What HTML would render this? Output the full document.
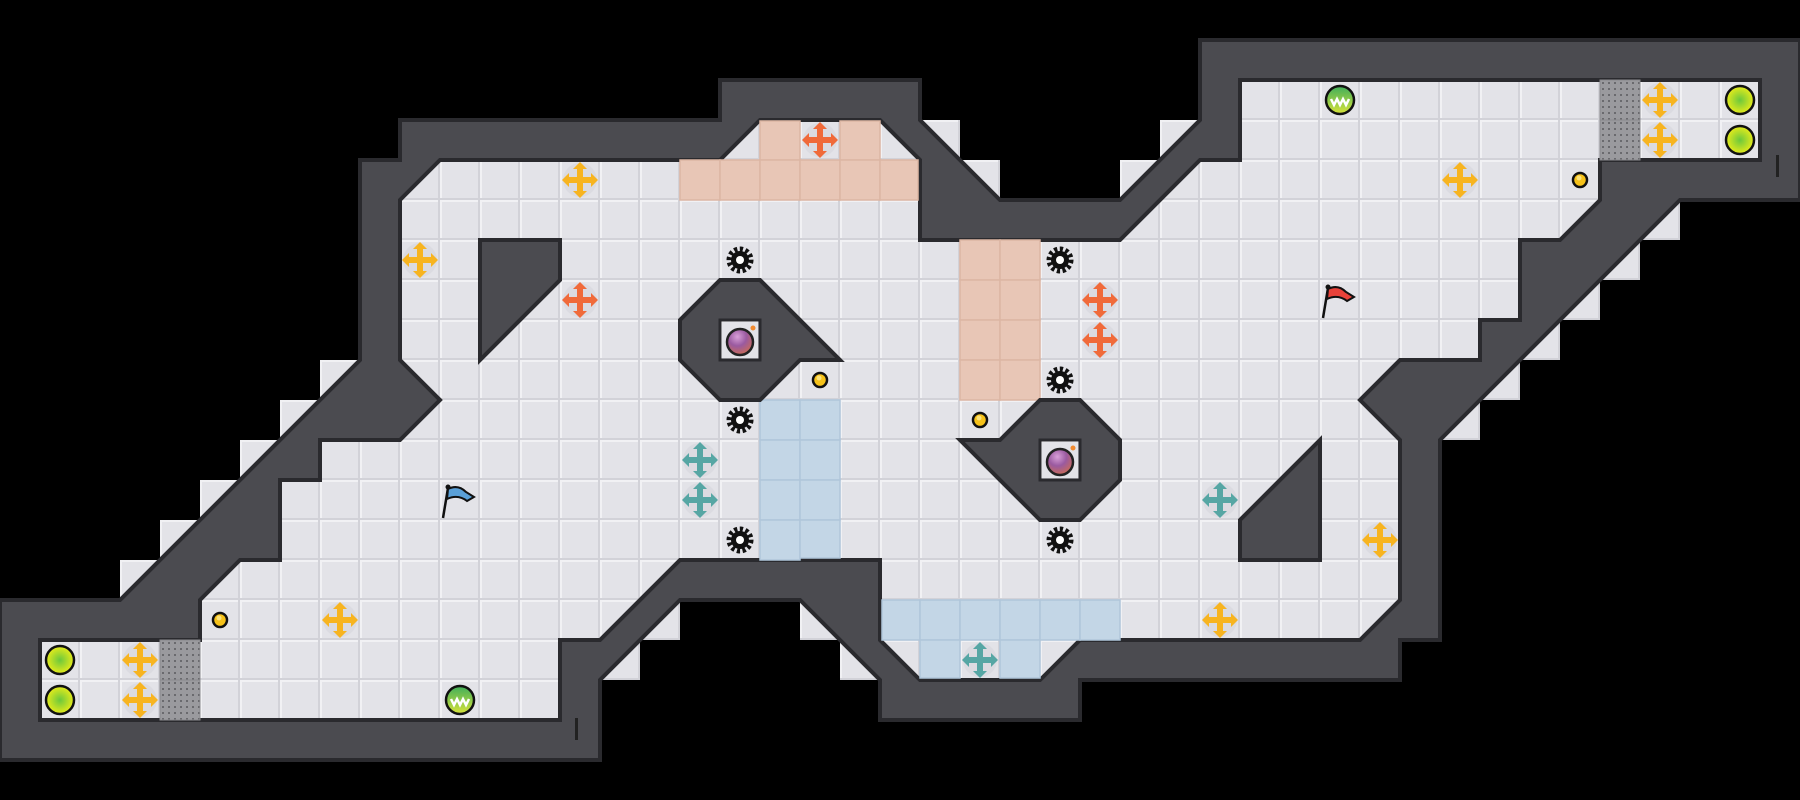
<!DOCTYPE html>
<html><head><meta charset="utf-8"><style>
html,body{margin:0;padding:0;background:#000;}
svg{display:block;}
</style></head><body>
<svg width="1800" height="800" viewBox="0 0 1800 800" xmlns="http://www.w3.org/2000/svg">
<defs>
<pattern id="tile" width="40" height="40" patternUnits="userSpaceOnUse">
<rect width="40" height="40" fill="#e3e3e8"/>
<rect x="0" y="0" width="40" height="2" fill="#f1f1f4"/>
<rect x="0" y="0" width="2" height="40" fill="#f1f1f4"/>
<rect x="38" y="0" width="2" height="40" fill="#d2d2d8"/>
<rect x="0" y="38" width="40" height="2" fill="#d2d2d8"/>
</pattern>
<radialGradient id="lime" cx="0.5" cy="0.5" r="0.5"><stop offset="0" stop-color="#6cc83c"/><stop offset="1" stop-color="#e8ec1a"/></radialGradient>
<linearGradient id="grn" x1="0" y1="0" x2="0" y2="1"><stop offset="0" stop-color="#3fae5a"/><stop offset="1" stop-color="#d8e43a"/></linearGradient>
<radialGradient id="bomb" cx="0.4" cy="0.3" r="0.7"><stop offset="0" stop-color="#d9a0d8"/><stop offset="0.5" stop-color="#9a5aa0"/><stop offset="1" stop-color="#c86a5a"/></radialGradient>
<g id="cross">
<circle r="17" fill="#d6d6dc" opacity="0.6"/>
<rect x="-12" y="-3" width="24" height="6"/>
<rect x="-3" y="-12" width="6" height="24"/>
<polygon points="-18,0 -11,-7 -11,7"/>
<polygon points="18,0 11,-7 11,7"/>
<polygon points="0,-18 -7,-11 7,-11"/>
<polygon points="0,18 -7,11 7,11"/>
</g>
<g id="gear">
<circle r="11" fill="none" stroke="#111" stroke-width="5" stroke-dasharray="3.2 2.5"/>
<circle r="9" fill="#111"/>
<circle r="4" fill="#fff"/>
</g>
<g id="coin"><circle r="7" fill="#f6c21a" stroke="#111" stroke-width="2.5"/><circle cx="-1" cy="-2" r="2.5" fill="#fbe27a"/></g>
<g id="limeb"><circle r="14" fill="url(#lime)" stroke="#111" stroke-width="2.5"/></g>
<g id="strb"><circle r="14" fill="url(#grn)" stroke="#111" stroke-width="2.5"/><polyline points="-9,-1 -6,5 -3,-1 0,5 3,-1 6,5 9,-1" fill="none" stroke="#fff" stroke-width="2.5"/></g>
<pattern id="dots" width="6" height="6" patternUnits="userSpaceOnUse"><rect width="6" height="6" fill="#9a9a9e"/><rect x="2" y="2" width="2" height="2" fill="#6a6a6e"/></pattern>
<g id="dot"><rect width="40" height="40" fill="url(#dots)"/><rect width="40" height="40" fill="none" stroke="#8a8a8e" stroke-width="1"/></g>
</defs>

<rect width="1800" height="800" fill="#000"/>

<!-- outer tiles -->
<g fill="url(#tile)">
<rect x="120" y="560" width="40" height="40"/><rect x="160" y="520" width="40" height="40"/><rect x="200" y="480" width="40" height="40"/>
<rect x="240" y="440" width="40" height="40"/><rect x="280" y="400" width="40" height="40"/><rect x="320" y="360" width="40" height="40"/>
<rect x="640" y="600" width="40" height="40"/><rect x="600" y="640" width="40" height="40"/><rect x="800" y="600" width="40" height="40"/><rect x="840" y="640" width="40" height="40"/>
<rect x="920" y="120" width="40" height="40"/><rect x="960" y="160" width="40" height="40"/><rect x="1120" y="160" width="40" height="40"/><rect x="1160" y="120" width="40" height="40"/>
<rect x="1640" y="200" width="40" height="40"/><rect x="1600" y="240" width="40" height="40"/><rect x="1560" y="280" width="40" height="40"/>
<rect x="1520" y="320" width="40" height="40"/><rect x="1480" y="360" width="40" height="40"/><rect x="1440" y="400" width="40" height="40"/>
</g>

<!-- outer wall -->
<polygon fill="#4b4b50" stroke="#2a2a2e" stroke-width="4" stroke-linejoin="miter" points="
0,760 0,600 120,600 360,360 360,160 400,160 400,120 720,120 720,80 920,80 920,120 1000,200 1120,200 1200,120 1200,40 1800,40 1800,200 1680,200 1440,440 1440,640 1400,640 1400,680 1080,680 1080,720 880,720 880,680 800,600 680,600 600,680 600,760"/>

<!-- floor -->
<polygon fill="url(#tile)" stroke="#2a2a2e" stroke-width="4" stroke-linejoin="miter" points="
40,720 40,640 200,640 200,600 240,560 280,560 280,480 320,480 320,440 400,440 440,400 400,360 400,200 440,160 720,160 760,120 880,120 920,160 920,240 1120,240 1200,160 1240,160 1240,80 1760,80 1760,160 1600,160 1600,200 1560,240 1520,240 1520,320 1480,320 1480,360 1400,360 1360,400 1400,440 1400,600 1360,640 1080,640 1040,680 920,680 880,640 880,560 680,560 600,640 560,640 560,720"/>

<!-- peach tiles -->
<g fill="#e8c6b6" stroke="#dcb6a4" stroke-width="1.5">
<rect x="760" y="121" width="40" height="39"/><rect x="840" y="121" width="40" height="39"/>
<rect x="680" y="160" width="40" height="40"/><rect x="720" y="160" width="40" height="40"/><rect x="760" y="160" width="40" height="40"/><rect x="800" y="160" width="40" height="40"/><rect x="840" y="160" width="40" height="40"/><rect x="880" y="160" width="38" height="40"/>
<rect x="960" y="240" width="40" height="40"/><rect x="1000" y="240" width="40" height="40"/>
<rect x="960" y="280" width="40" height="40"/><rect x="1000" y="280" width="40" height="40"/>
<rect x="960" y="320" width="40" height="40"/><rect x="1000" y="320" width="40" height="40"/>
<rect x="960" y="360" width="40" height="40"/><rect x="1000" y="360" width="40" height="40"/>
</g>
<!-- blue tiles -->
<g fill="#c3d6e6" stroke="#b0c6da" stroke-width="1.5">
<rect x="760" y="400" width="40" height="40"/><rect x="800" y="400" width="40" height="40"/>
<rect x="760" y="440" width="40" height="40"/><rect x="800" y="440" width="40" height="40"/>
<rect x="760" y="480" width="40" height="40"/><rect x="800" y="480" width="40" height="40"/>
<rect x="760" y="520" width="40" height="40"/><rect x="800" y="520" width="40" height="38"/>
<rect x="882" y="600" width="38" height="40"/><rect x="920" y="600" width="40" height="40"/><rect x="960" y="600" width="40" height="40"/><rect x="1000" y="600" width="40" height="40"/><rect x="1040" y="600" width="40" height="40"/><rect x="1080" y="600" width="40" height="40"/>
<rect x="920" y="640" width="40" height="38"/><rect x="1000" y="640" width="40" height="38"/>
</g>

<!-- grey dotted -->
<use href="#dot" x="160" y="640"/><use href="#dot" x="160" y="680"/>
<use href="#dot" x="1600" y="80"/><use href="#dot" x="1600" y="120"/>

<!-- inner walls -->
<g fill="#4b4b50" stroke="#2a2a2e" stroke-width="4" stroke-linejoin="miter">
<polygon points="480,240 560,240 560,280 480,360"/>
<polygon points="720,280 760,280 840,360 800,360 760,400 720,400 680,360 680,320"/>
<polygon points="1080,520 1040,520 960,440 1000,440 1040,400 1080,400 1120,440 1120,480"/>
<polygon points="1320,440 1320,560 1240,560 1240,520"/>
</g>
<rect x="720" y="320" width="40" height="40" fill="url(#tile)" stroke="#2a2a2e" stroke-width="3"/>
<rect x="1040" y="440" width="40" height="40" fill="url(#tile)" stroke="#2a2a2e" stroke-width="3"/>
<!-- bombs -->
<g><circle cx="740" cy="342" r="13" fill="url(#bomb)" stroke="#222" stroke-width="2.5"/><circle cx="753" cy="328" r="2.5" fill="#f08a30"/></g>
<g><circle cx="1060" cy="462" r="13" fill="url(#bomb)" stroke="#222" stroke-width="2.5"/><circle cx="1073" cy="448" r="2.5" fill="#f08a30"/></g>

<!-- yellow arrows -->
<g fill="#f7b420">
<use href="#cross" x="580" y="180"/><use href="#cross" x="420" y="260"/><use href="#cross" x="340" y="620"/>
<use href="#cross" x="140" y="660"/><use href="#cross" x="140" y="700"/><use href="#cross" x="1660" y="100"/>
<use href="#cross" x="1660" y="140"/><use href="#cross" x="1460" y="180"/><use href="#cross" x="1380" y="540"/>
<use href="#cross" x="1220" y="620"/>
</g>
<g fill="#f06a3a">
<use href="#cross" x="820" y="140"/><use href="#cross" x="580" y="300"/><use href="#cross" x="1100" y="300"/><use href="#cross" x="1100" y="340"/>
</g>
<g fill="#56a6a4">
<use href="#cross" x="700" y="460"/><use href="#cross" x="700" y="500"/><use href="#cross" x="1220" y="500"/><use href="#cross" x="980" y="660"/>
</g>
<!-- gears -->
<use href="#gear" x="740" y="260"/><use href="#gear" x="740" y="420"/><use href="#gear" x="740" y="540"/>
<use href="#gear" x="1060" y="260"/><use href="#gear" x="1060" y="380"/><use href="#gear" x="1060" y="540"/>
<!-- coins -->
<use href="#coin" x="220" y="620"/><use href="#coin" x="820" y="380"/><use href="#coin" x="980" y="420"/><use href="#coin" x="1580" y="180"/>
<!-- balls -->
<use href="#limeb" x="60" y="660"/><use href="#limeb" x="60" y="700"/><use href="#limeb" x="1740" y="100"/><use href="#limeb" x="1740" y="140"/>
<use href="#strb" x="460" y="700"/><use href="#strb" x="1340" y="100"/>
<!-- flags -->
<g transform="translate(440,480)">
<line x1="3" y1="38" x2="8" y2="8" stroke="#111" stroke-width="2.5"/>
<path d="M8,9 Q18,4 26,12 L34,17 L27,21 Q18,14 7,19 Z" fill="#5aa0d8" stroke="#111" stroke-width="2"/>
<circle cx="8" cy="7" r="2.5" fill="#111"/>
</g>
<g transform="translate(1320,280)">
<line x1="3" y1="38" x2="8" y2="8" stroke="#111" stroke-width="2.5"/>
<path d="M8,9 Q18,4 26,12 L34,17 L27,21 Q18,14 7,19 Z" fill="#e8423a" stroke="#111" stroke-width="2"/>
<circle cx="8" cy="7" r="2.5" fill="#111"/>
</g>
<!-- small wall ticks -->
<rect x="575" y="718" width="3" height="22" fill="#222"/>
<rect x="1776" y="155" width="3" height="22" fill="#222"/>
</svg>
</body></html>
